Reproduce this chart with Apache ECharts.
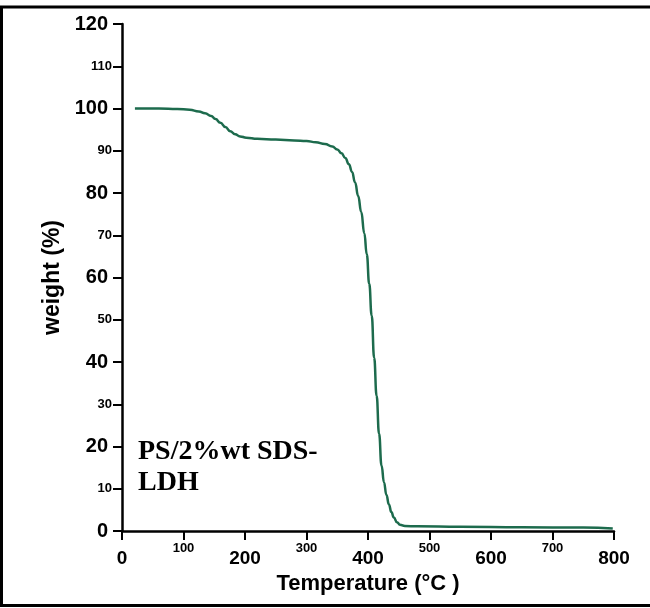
<!DOCTYPE html>
<html>
<head>
<meta charset="utf-8">
<script src="https://cdn.jsdelivr.net/npm/echarts@6/dist/echarts.min.js"></script>
<style>html,body{margin:0;padding:0;background:#fff}#c{width:650px;height:608px}</style>
</head>
<body>
<div id="c"></div>
<script>
var temperature = [21, 60, 90, 110, 125, 135, 145, 152, 160, 168, 176, 184, 192, 202, 220, 250, 280, 300, 315, 330, 342, 350, 357, 363, 369, 374, 379, 384, 389, 394, 398, 402, 406, 410, 414, 418, 422, 426, 430, 434, 438, 442, 447, 452, 460, 480, 550, 650, 750, 798];
var weight = [100, 100, 99.9, 99.7, 99.3, 98.9, 98.2, 97.5, 96.6, 95.6, 94.6, 93.9, 93.4, 93.1, 92.85, 92.65, 92.45, 92.3, 92.0, 91.6, 91.0, 90.3, 89.4, 88.3, 86.8, 85.0, 82.5, 79.3, 75.5, 70.5, 65.5, 58.5, 51.0, 41, 32, 23, 15.5, 11.5, 8.5, 6.3, 4.5, 3.2, 2.1, 1.5, 1.2, 1.1, 1.0, 0.9, 0.8, 0.6];
var xTicks = [0, 100, 200, 300, 400, 500, 600, 700, 800];
var yTicks = [0, 10, 20, 30, 40, 50, 60, 70, 80, 90, 100, 110, 120];
var sampleLabel = 'PS/2%wt SDS-\nLDH';

var pts = temperature.map(function (t, i) { return [t, weight[i]]; });
var chart = echarts.init(document.getElementById('c'), null, { renderer: 'canvas' });
var sans = '"Liberation Sans", Arial, sans-serif';
chart.setOption({
  animation: false,
  backgroundColor: '#fff',
  grid: { left: 122, right: 36, top: 24, bottom: 77 },
  xAxis: {
    type: 'value', min: xTicks[0], max: xTicks[xTicks.length - 1], interval: 100,
    name: 'Temperature (°C )', nameLocation: 'middle', nameGap: 35,
    nameTextStyle: { fontFamily: sans, fontWeight: 'bold', fontSize: 22, color: '#000' },
    axisLine: { show: true, onZero: false, lineStyle: { color: '#000', width: 2.5 } },
    axisTick: { show: true, inside: false, length: 9, lineStyle: { color: '#000', width: 2 } },
    splitLine: { show: false },
    axisLabel: {
      margin: 11, fontFamily: sans, color: '#000',
      formatter: function (v) { return (v % 200 === 0 ? '{a|' : '{b|') + v + '}'; },
      rich: {
        a: { fontFamily: sans, fontWeight: 'bold', fontSize: 19, color: '#000', padding: [7, 0, 0, 0] },
        b: { fontFamily: sans, fontWeight: 'bold', fontSize: 13, color: '#000' }
      }
    }
  },
  yAxis: {
    type: 'value', min: yTicks[0], max: yTicks[yTicks.length - 1], interval: 10,
    name: 'weight (%)', nameLocation: 'middle', nameGap: 53,
    nameTextStyle: { fontFamily: sans, fontWeight: 'bold', fontSize: 23, color: '#000' },
    axisLine: { show: true, onZero: false, lineStyle: { color: '#000', width: 2.5 } },
    axisTick: { show: true, inside: false, length: 9, lineStyle: { color: '#000', width: 2 } },
    splitLine: { show: false },
    axisLabel: {
      margin: 10, fontFamily: sans, color: '#000',
      formatter: function (v) { return (v % 20 === 0 ? '{a|' : '{b|') + v + '}'; },
      rich: {
        a: { fontFamily: sans, fontWeight: 'bold', fontSize: 20, color: '#000', padding: [0, 4, 0, 0] },
        b: { fontFamily: sans, fontWeight: 'bold', fontSize: 13, color: '#000' }
      }
    }
  },
  series: [{
    type: 'line', data: pts, showSymbol: false, symbol: 'none',
    smooth: 0.5, smoothMonotone: 'x',
    lineStyle: { color: '#1d6b4d', width: 2.5 }
  }],
  graphic: [
    { type: 'rect', shape: { x: 1.5, y: 7, width: 700, height: 598.5 }, style: { fill: 'none', stroke: '#000', lineWidth: 3 }, silent: true },
    { type: 'text', left: 138, top: 436, style: { text: sampleLabel, font: 'bold 28px "Liberation Serif", "Times New Roman", serif', fill: '#000', lineHeight: 31 } }
  ]
});
</script>
</body>
</html>
